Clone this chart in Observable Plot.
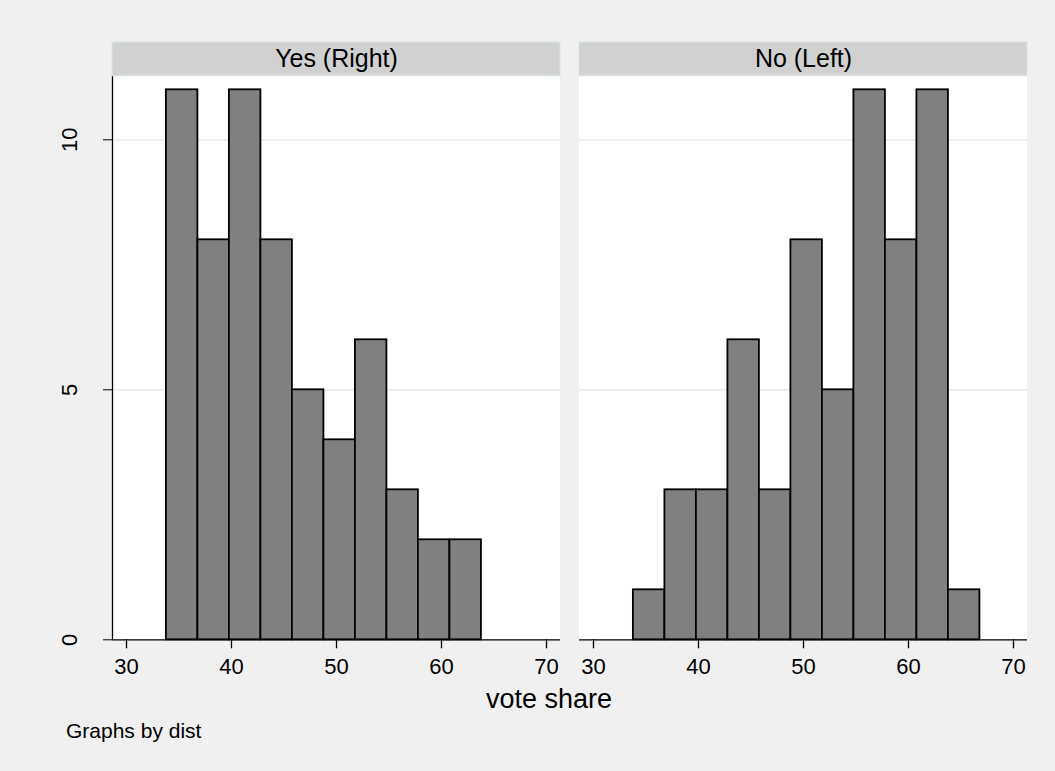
<!DOCTYPE html>
<html>
<head>
<meta charset="utf-8">
<script src="https://cdn.jsdelivr.net/npm/d3@7"></script>
<script src="https://cdn.jsdelivr.net/npm/@observablehq/plot@0.6"></script>
<style>
  html, body { margin: 0; padding: 0; background: #f0f0f0; }
  #wrap { width: 1055px; height: 771px; position: relative; background: #f0f0f0; font-family: "Liberation Sans", Arial, sans-serif; color: #000; }
  #below { position: relative; width: 1055px; height: 91px; }
  #xtitle { position: absolute; left: 549px; top: 6px; transform: translateX(-50%); font-size: 27px; line-height: 27px; white-space: nowrap; }
  #note { position: absolute; left: 66px; top: 40px; font-size: 21px; line-height: 21px; white-space: nowrap; }
  svg { display: block; }
</style>
</head>
<body>
<div id="wrap">
  <div id="chart"></div>
  <div id="below">
    <div id="xtitle">vote share</div>
    <div id="note">Graphs by dist</div>
  </div>
</div>
<script>
// ---- data ----
const facets = ["Yes (Right)", "No (Left)"];
const binEdges = [33.8, 36.8, 39.8, 42.8, 45.8, 48.8, 51.8, 54.8, 57.8, 60.8, 63.8, 66.8];
const countsYes = [11, 8, 11, 8, 5, 4, 6, 3, 2, 2];
const countsNo = [1, 3, 3, 6, 3, 8, 5, 11, 8, 11, 1];
const xTicks = [30, 40, 50, 60, 70];
const yTicks = [0, 5, 10];

// ---- layout ----
const xMin = 28.667, xMax = 71.333;
const yPanelTop = 11.272;   // top of the plotting region (bottom of header strip)
const yHeaderTop = 11.946;  // top of header strip
const font = "'Liberation Sans', Arial, sans-serif";

const rows = [];
[countsYes, countsNo].forEach((counts, f) => {
  counts.forEach((c, i) => rows.push({facet: facets[f], x1: binEdges[i], x2: binEdges[i + 1], count: c}));
});
const firstFacetTicks = yTicks.map(v => ({facet: facets[0], v}));

const chart = Plot.plot({
  width: 1055,
  height: 680,
  marginLeft: 112,
  marginRight: 27,
  marginTop: 42,
  marginBottom: 40.7,
  style: {background: "#f0f0f0", fontFamily: font, fontSize: "22px", color: "#000", overflow: "visible"},
  fx: {domain: facets, paddingInner: 19 / 467.5, paddingOuter: 0, axis: null, label: null},
  x: {domain: [xMin, xMax], label: null},
  y: {domain: [0, yHeaderTop], ticks: yTicks, tickSize: 9, tickFormat: () => "", label: null},
  marks: [
    // panel background
    Plot.rect(facets, {fx: d => d, x1: xMin, x2: xMax, y1: 0, y2: yPanelTop, fill: "white"}),
    // grid lines
    Plot.ruleY([5, 10], {stroke: "#e4e4e4", strokeWidth: 1.3}),
    // bars
    Plot.rect(rows, {fx: "facet", x1: "x1", x2: "x2", y1: 0, y2: "count", fill: "#808080", stroke: "#000", strokeWidth: 1.8}),
    // x axis (each panel)
    Plot.axisX({ticks: xTicks, tickSize: 9, tickPadding: 10, fontSize: 22, label: null, strokeWidth: 1.3}),
    Plot.ruleY([0], {stroke: "#000", strokeWidth: 1.3}),
    // y axis line and rotated labels (left panel only)
    Plot.ruleX([{facet: facets[0]}], {fx: "facet", x: xMin, y1: 0, y2: yPanelTop, stroke: "#000", strokeWidth: 1.3}),
    Plot.text(firstFacetTicks, {fx: "facet", x: xMin, y: "v", text: d => String(d.v), rotate: -90, dx: -36, lineAnchor: "bottom", textAnchor: "middle", fontSize: 22}),
    // header strips
    Plot.rect(facets, {fx: d => d, x1: xMin, x2: xMax, y1: yPanelTop, y2: yHeaderTop, fill: "#d1d1d1", stroke: "#d5e4ea", strokeWidth: 1}),
    Plot.text(facets, {fx: d => d, text: d => d, x: (xMin + xMax) / 2, y: (yPanelTop + yHeaderTop) / 2, fontSize: 25, lineAnchor: "middle"})
  ]
});
document.getElementById("chart").appendChild(chart);
</script>
</body>
</html>
